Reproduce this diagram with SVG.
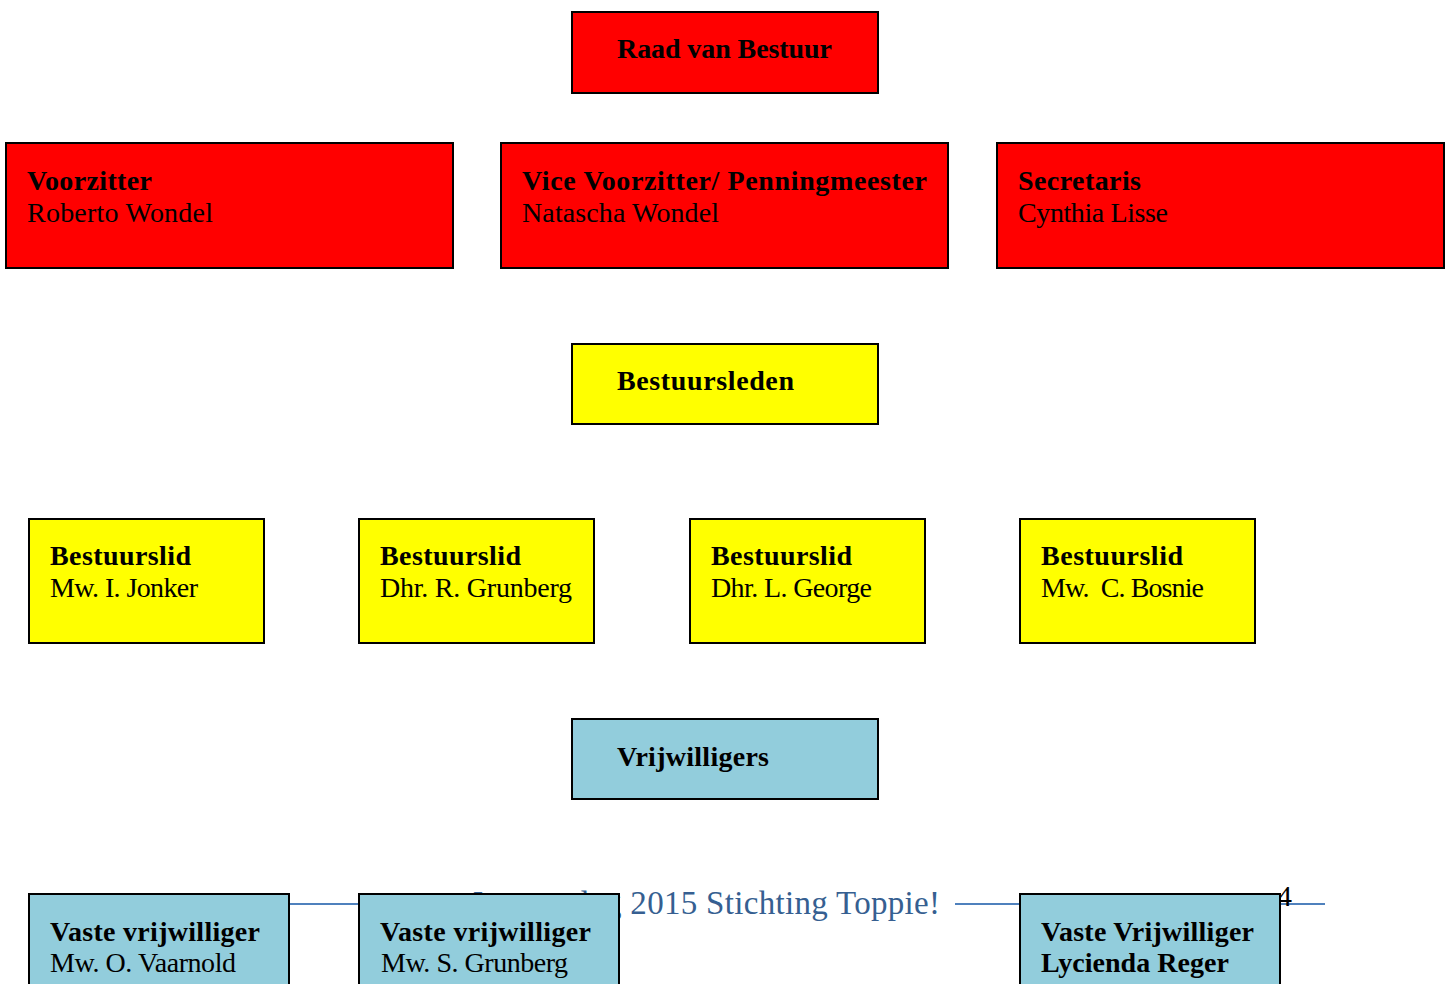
<svg xmlns="http://www.w3.org/2000/svg" width="1451" height="984" viewBox="0 0 1451 984">
<style>
  .box { stroke: #000; stroke-width: 2; }
  .red { fill: #ff0000; }
  .yel { fill: #ffff00; }
  .blu { fill: #92cddc; }
  text { font-family: "Liberation Serif", "DejaVu Serif", serif; font-size: 28px; fill: #000; white-space: pre; }
  .b { font-weight: bold; }
  .foot { font-size: 33px; fill: #365f91; }
  .pg { font-size: 30px; fill: #000; }
  .fline { stroke: #4f81bd; stroke-width: 2; fill: none; }
</style>
<rect width="1451" height="984" fill="#ffffff"/>

<g id="footer">
  <line class="fline" x1="100" y1="904" x2="462" y2="904"/>
  <line class="fline" x1="955" y1="904" x2="1325" y2="904"/>
  <text class="foot" x="470" y="914" textLength="470" lengthAdjust="spacing">Jaarverslag 2015 Stichting Toppie!</text>
  <text class="pg" x="1277" y="906">4</text>
</g>

<g id="connectors"></g>

<g id="raad">
  <rect class="box red" x="572" y="12" width="306" height="81"/>
  <text class="b" x="617" y="58" textLength="215" lengthAdjust="spacing">Raad van Bestuur</text>
</g>

<g id="voorzitter">
  <rect class="box red" x="6" y="143" width="447" height="125"/>
  <text class="b" x="27" y="190" textLength="125" lengthAdjust="spacing">Voorzitter</text>
  <text x="27" y="222" textLength="186" lengthAdjust="spacing">Roberto Wondel</text>
</g>

<g id="vicevoorzitter">
  <rect class="box red" x="501" y="143" width="447" height="125"/>
  <text class="b" x="522" y="190" textLength="405" lengthAdjust="spacing">Vice Voorzitter/ Penningmeester</text>
  <text x="522" y="222" textLength="197" lengthAdjust="spacing">Natascha Wondel</text>
</g>

<g id="secretaris">
  <rect class="box red" x="997" y="143" width="447" height="125"/>
  <text class="b" x="1018" y="190" textLength="123" lengthAdjust="spacing">Secretaris</text>
  <text x="1018" y="222" textLength="150" lengthAdjust="spacing">Cynthia Lisse</text>
</g>

<g id="bestuursleden">
  <rect class="box yel" x="572" y="344" width="306" height="80"/>
  <text class="b" x="617" y="390" textLength="177" lengthAdjust="spacing">Bestuursleden</text>
</g>

<g id="bestuurslid1">
  <rect class="box yel" x="29" y="519" width="235" height="124"/>
  <text class="b" x="50" y="565" textLength="141" lengthAdjust="spacing">Bestuurslid</text>
  <text x="50" y="597" textLength="148" lengthAdjust="spacing">Mw. I. Jonker</text>
</g>

<g id="bestuurslid2">
  <rect class="box yel" x="359" y="519" width="235" height="124"/>
  <text class="b" x="380" y="565" textLength="141" lengthAdjust="spacing">Bestuurslid</text>
  <text x="380" y="597" textLength="192" lengthAdjust="spacing">Dhr. R. Grunberg</text>
</g>

<g id="bestuurslid3">
  <rect class="box yel" x="690" y="519" width="235" height="124"/>
  <text class="b" x="711" y="565" textLength="141" lengthAdjust="spacing">Bestuurslid</text>
  <text x="711" y="597" textLength="161" lengthAdjust="spacing">Dhr. L. George</text>
</g>

<g id="bestuurslid4">
  <rect class="box yel" x="1020" y="519" width="235" height="124"/>
  <text class="b" x="1041" y="565" textLength="142" lengthAdjust="spacing">Bestuurslid</text>
  <text x="1041" y="597" textLength="163" lengthAdjust="spacing">Mw.  C. Bosnie</text>
</g>

<g id="vrijwilligers">
  <rect class="box blu" x="572" y="719" width="306" height="80"/>
  <text class="b" x="617" y="766" textLength="152" lengthAdjust="spacing">Vrijwilligers</text>
</g>

<g id="vaste1">
  <rect class="box blu" x="29" y="894" width="260" height="100"/>
  <text class="b" x="50" y="941" textLength="210" lengthAdjust="spacing">Vaste vrijwilliger</text>
  <text x="50" y="972" textLength="186" lengthAdjust="spacing">Mw. O. Vaarnold</text>
</g>

<g id="vaste2">
  <rect class="box blu" x="359" y="894" width="260" height="100"/>
  <text class="b" x="380" y="941" textLength="211" lengthAdjust="spacing">Vaste vrijwilliger</text>
  <text x="381" y="972" textLength="187" lengthAdjust="spacing">Mw. S. Grunberg</text>
</g>

<g id="vaste3">
  <rect class="box blu" x="1020" y="894" width="260" height="100"/>
  <text class="b" x="1041" y="941" textLength="213" lengthAdjust="spacing">Vaste Vrijwilliger</text>
  <text class="b" x="1041" y="972" textLength="188" lengthAdjust="spacing">Lycienda Reger</text>
</g>
</svg>
